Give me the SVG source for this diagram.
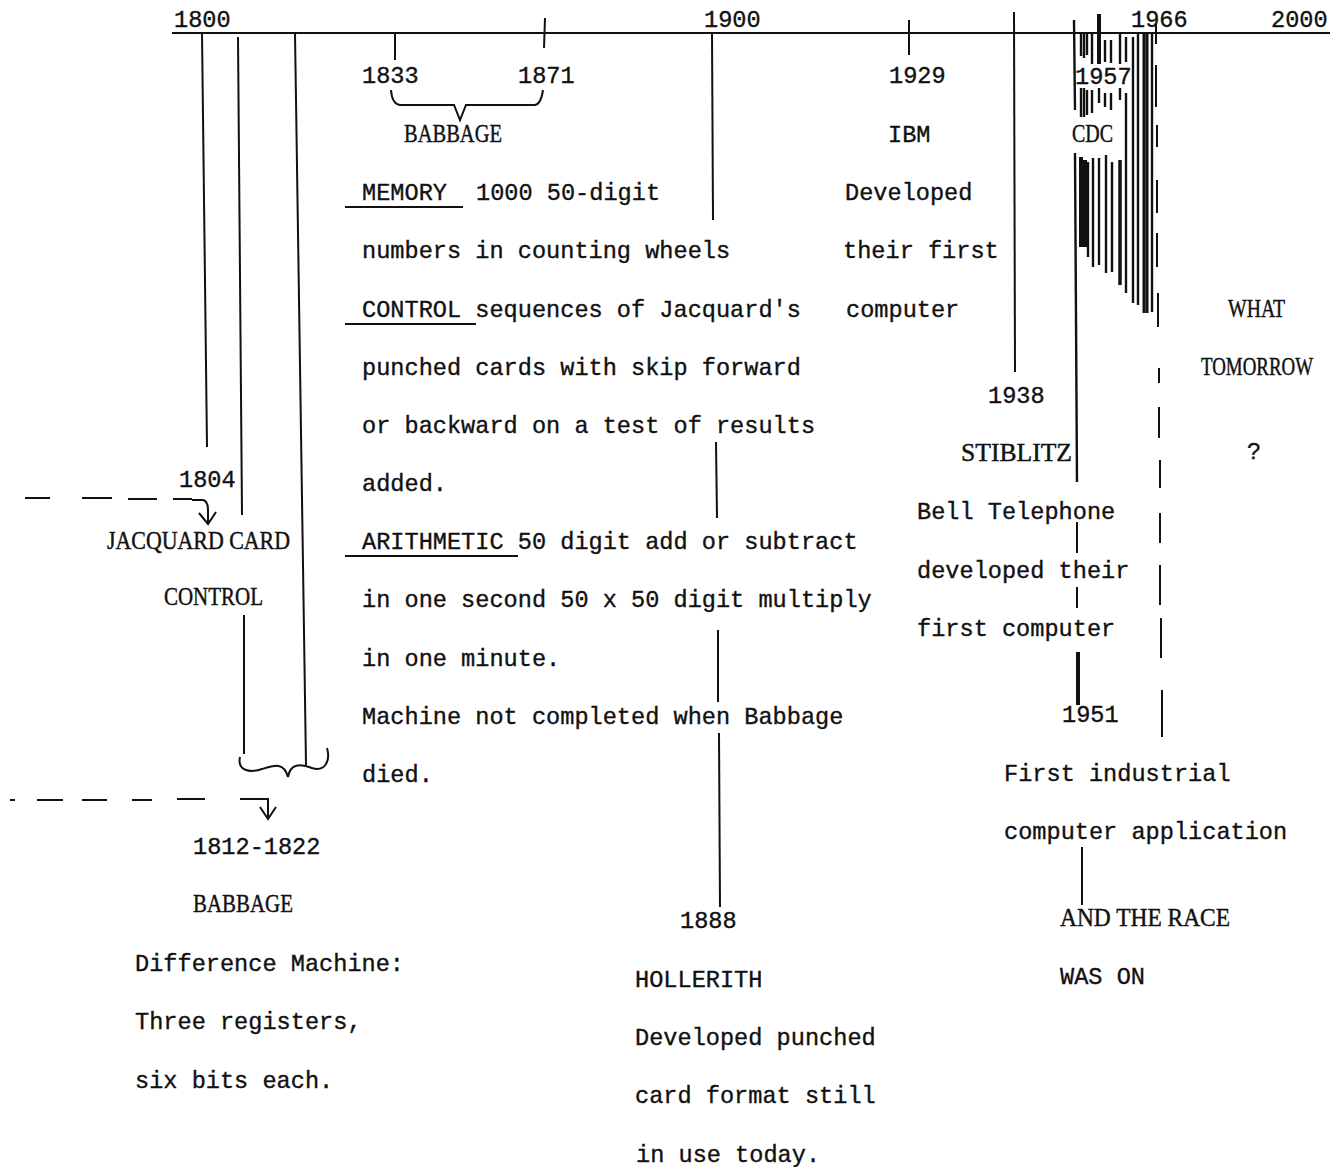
<svg xmlns="http://www.w3.org/2000/svg" width="1342" height="1167" viewBox="0 0 1342 1167">
<style>
.t{font-family:"Liberation Mono","DejaVu Sans Mono",monospace;font-size:23.6px;fill:#111;stroke:#111;stroke-width:0.35}
.s{font-family:"Liberation Serif","DejaVu Serif",serif;font-size:20.5px;fill:#111;stroke:#111;stroke-width:0.35}
.l{stroke:#111;stroke-width:2;fill:none;stroke-linecap:butt}
.d{stroke:#111;stroke-width:2.4;fill:none}
.k{stroke:#111;stroke-width:4;fill:none}
</style>
<rect width="1342" height="1167" fill="#fff"/>
<g id="connectors">
  <line class="l" x1="172" y1="33" x2="1330" y2="33"/>
  <line class="l" x1="202" y1="33" x2="207" y2="447"/>
  <line class="l" x1="238" y1="37" x2="242" y2="515"/>
  <line class="l" x1="244" y1="615" x2="244" y2="754"/>
  <line class="l" x1="295" y1="33" x2="306" y2="765"/>
  <path class="l" stroke-width="3" d="M240,757 C237,771 250,773 262,769 C275,765 284,762 288,777 C290,764 300,763 312,768 C324,772 331,762 327,748"/>
  <g class="l">
    <line x1="25" y1="498" x2="50" y2="498"/>
    <line x1="82" y1="498" x2="112" y2="498"/>
    <line x1="128" y1="499" x2="157" y2="499"/>
    <line x1="173" y1="499" x2="192" y2="499"/>
    <path d="M192,500 L203,500 Q208,501 208,510 L208,523"/>
    <path d="M199,513 L208,524 L216,512"/>
    <line x1="10" y1="800" x2="15" y2="800"/>
    <line x1="37" y1="800" x2="63" y2="800"/>
    <line x1="82" y1="800" x2="107" y2="800"/>
    <line x1="132" y1="800" x2="152" y2="800"/>
    <line x1="177" y1="799" x2="205" y2="799"/>
    <path d="M240,799 L268,799 L268,817"/>
    <path d="M260,807 L268,819 L276,807"/>
  </g>
  <line class="l" x1="395" y1="33" x2="395" y2="60"/>
  <line class="l" x1="545" y1="18" x2="544" y2="48"/>
  <path class="l" stroke-width="2.4" d="M391,90 Q392,104 400,105 L454,105 L460,120 L466,105 L535,105 Q541,104 543,90"/>
  <line class="l" x1="712" y1="33" x2="713" y2="220"/>
  <line class="l" x1="716" y1="442" x2="717" y2="518"/>
  <line class="l" x1="718" y1="630" x2="718" y2="702"/>
  <line class="l" x1="719" y1="733" x2="720" y2="907"/>
  <line class="l" x1="909" y1="20" x2="909" y2="55"/>
  <line class="l" x1="1014" y1="12" x2="1015" y2="372"/>
  <line class="d" x1="1074" y1="20" x2="1075" y2="110"/>
  <line class="d" x1="1075" y1="153" x2="1077" y2="482"/>
  <line class="l" x1="1077" y1="522" x2="1077" y2="553"/>
  <line class="l" x1="1077" y1="587" x2="1077" y2="608"/>
  <line class="k" stroke-width="3" x1="1078" y1="652" x2="1078" y2="705"/>
  <line class="l" stroke-width="2.4" x1="1082" y1="847" x2="1082" y2="905"/>
  <g class="d">
    <line x1="1081" y1="33" x2="1081" y2="56"/>
    <line x1="1084" y1="33" x2="1084" y2="58"/>
    <line x1="1087" y1="33" x2="1087" y2="55"/>
    <line x1="1092" y1="33" x2="1092" y2="64"/>
    <line x1="1099" y1="14" x2="1099" y2="64" stroke-width="4"/>
    <line x1="1105" y1="40" x2="1105" y2="62"/>
    <line x1="1111" y1="40" x2="1111" y2="63"/>
    <line x1="1120" y1="33" x2="1120" y2="64"/>
    <line x1="1081" y1="88" x2="1081" y2="117"/>
    <line x1="1084" y1="88" x2="1084" y2="117"/>
    <line x1="1087" y1="90" x2="1087" y2="115"/>
    <line x1="1092" y1="90" x2="1092" y2="113"/>
    <line x1="1099" y1="88" x2="1099" y2="103"/>
    <line x1="1105" y1="93" x2="1105" y2="107"/>
    <line x1="1111" y1="93" x2="1111" y2="110"/>
    <line x1="1120" y1="88" x2="1120" y2="100"/>
    <line x1="1081" y1="157" x2="1081" y2="247" stroke-width="4"/>
    <line x1="1085" y1="160" x2="1085" y2="247" stroke-width="4"/>
    <line x1="1088" y1="162" x2="1088" y2="257"/>
    <line x1="1093" y1="158" x2="1093" y2="267"/>
    <line x1="1099" y1="158" x2="1099" y2="265"/>
    <line x1="1106" y1="155" x2="1106" y2="273"/>
    <line x1="1112" y1="162" x2="1112" y2="272"/>
    <line x1="1120" y1="160" x2="1120" y2="285" stroke-width="3.5"/>
    <line x1="1126" y1="37" x2="1126" y2="62"/>
    <line x1="1126" y1="93" x2="1126" y2="293"/>
    <line x1="1133" y1="37" x2="1133" y2="303"/>
    <line x1="1138" y1="33" x2="1138" y2="305"/>
    <line x1="1144" y1="33" x2="1144" y2="313" stroke-width="3"/>
    <line x1="1147" y1="33" x2="1147" y2="313" stroke-width="3"/>
    <line x1="1152" y1="33" x2="1152" y2="312"/>
  </g>
  <g class="l" stroke-width="2.2">
    <line x1="1156" y1="24" x2="1156" y2="44"/>
    <line x1="1156" y1="65" x2="1156" y2="107"/>
    <line x1="1157" y1="125" x2="1157" y2="147"/>
    <line x1="1157" y1="180" x2="1157" y2="213"/>
    <line x1="1157" y1="233" x2="1157" y2="267"/>
    <line x1="1158" y1="293" x2="1158" y2="327"/>
    <line x1="1159" y1="368" x2="1159" y2="383"/>
    <line x1="1159" y1="407" x2="1159" y2="438"/>
    <line x1="1160" y1="460" x2="1160" y2="488"/>
    <line x1="1160" y1="513" x2="1160" y2="543"/>
    <line x1="1160" y1="565" x2="1160" y2="605"/>
    <line x1="1161" y1="618" x2="1161" y2="658"/>
    <line x1="1162" y1="690" x2="1162" y2="737"/>
  </g>
  <line class="l" x1="345" y1="207" x2="463" y2="207"/>
  <line class="l" x1="345" y1="324" x2="476" y2="324"/>
  <line class="l" x1="345" y1="556" x2="518" y2="556"/>
</g>
<g id="axis-labels">
  <text class="t" x="174" y="27">1800</text>
  <text class="t" x="704" y="27">1900</text>
  <text class="t" x="1131" y="27">1966</text>
  <text class="t" x="1271" y="27">2000</text>
</g>
<g id="node-jacquard">
  <text class="t" x="179" y="487">1804</text>
  <text class="s" transform="translate(107 549) scale(1 1.18)" textLength="183" lengthAdjust="spacingAndGlyphs">JACQUARD CARD</text>
  <text class="s" transform="translate(164 605) scale(1 1.18)" textLength="99" lengthAdjust="spacingAndGlyphs">CONTROL</text>
</g>
<g id="node-babbage-difference">
  <text class="t" x="193" y="854">1812-1822</text>
  <text class="s" transform="translate(193 912) scale(1 1.18)" textLength="100" lengthAdjust="spacingAndGlyphs">BABBAGE</text>
  <text class="t" x="135" y="971">Difference Machine:</text>
  <text class="t" x="135" y="1029">Three registers,</text>
  <text class="t" x="135" y="1088">six bits each.</text>
</g>
<g id="node-babbage-analytical">
  <text class="t" x="362" y="83">1833</text>
  <text class="t" x="518" y="83">1871</text>
  <text class="s" transform="translate(404 142) scale(1 1.18)" textLength="98" lengthAdjust="spacingAndGlyphs">BABBAGE</text>
  <text class="t" x="362" y="200">MEMORY</text>
  <text class="t" x="476" y="200">1000 50-digit</text>
  <text class="t" x="362" y="258">numbers in counting wheels</text>
  <text class="t" x="362" y="317">CONTROL sequences of Jacquard's</text>
  <text class="t" x="362" y="375">punched cards with skip forward</text>
  <text class="t" x="362" y="433">or backward on a test of results</text>
  <text class="t" x="362" y="491">added.</text>
  <text class="t" x="362" y="549">ARITHMETIC 50 digit add or subtract</text>
  <text class="t" x="362" y="607">in one second 50 x 50 digit multiply</text>
  <text class="t" x="362" y="666">in one minute.</text>
  <text class="t" x="362" y="724">Machine not completed when Babbage</text>
  <text class="t" x="362" y="782">died.</text>
</g>
<g id="node-hollerith">
  <text class="t" x="680" y="928">1888</text>
  <text class="t" x="635" y="987">HOLLERITH</text>
  <text class="t" x="635" y="1045">Developed punched</text>
  <text class="t" x="635" y="1103">card format still</text>
  <text class="t" x="636" y="1162">in use today.</text>
</g>
<g id="node-ibm">
  <text class="t" x="889" y="83">1929</text>
  <text class="t" x="888" y="142">IBM</text>
  <text class="t" x="845" y="200">Developed</text>
  <text class="t" x="843" y="258">their first</text>
  <text class="t" x="846" y="317">computer</text>
</g>
<g id="node-stiblitz">
  <text class="t" x="988" y="403">1938</text>
  <text class="s" transform="translate(961 461) scale(1 1.18)" textLength="111" lengthAdjust="spacingAndGlyphs">STIBLITZ</text>
  <text class="t" x="917" y="519">Bell Telephone</text>
  <text class="t" x="917" y="578">developed their</text>
  <text class="t" x="917" y="636">first computer</text>
</g>
<g id="node-cdc">
  <text class="t" x="1075" y="84">1957</text>
  <text class="s" transform="translate(1072 142) scale(1 1.18)" textLength="41" lengthAdjust="spacingAndGlyphs">CDC</text>
</g>
<g id="node-1951">
  <text class="t" x="1062" y="722">1951</text>
  <text class="t" x="1004" y="781">First industrial</text>
  <text class="t" x="1004" y="839">computer application</text>
  <text class="s" transform="translate(1060 926) scale(1 1.18)" textLength="170" lengthAdjust="spacingAndGlyphs">AND THE RACE</text>
  <text class="t" x="1060" y="984">WAS ON</text>
</g>
<g id="node-tomorrow">
  <text class="s" transform="translate(1228 317) scale(1 1.18)" textLength="57" lengthAdjust="spacingAndGlyphs">WHAT</text>
  <text class="s" transform="translate(1201 375) scale(1 1.18)" textLength="112" lengthAdjust="spacingAndGlyphs">TOMORROW</text>
  <text class="t" x="1247" y="459">?</text>
</g>
</svg>
